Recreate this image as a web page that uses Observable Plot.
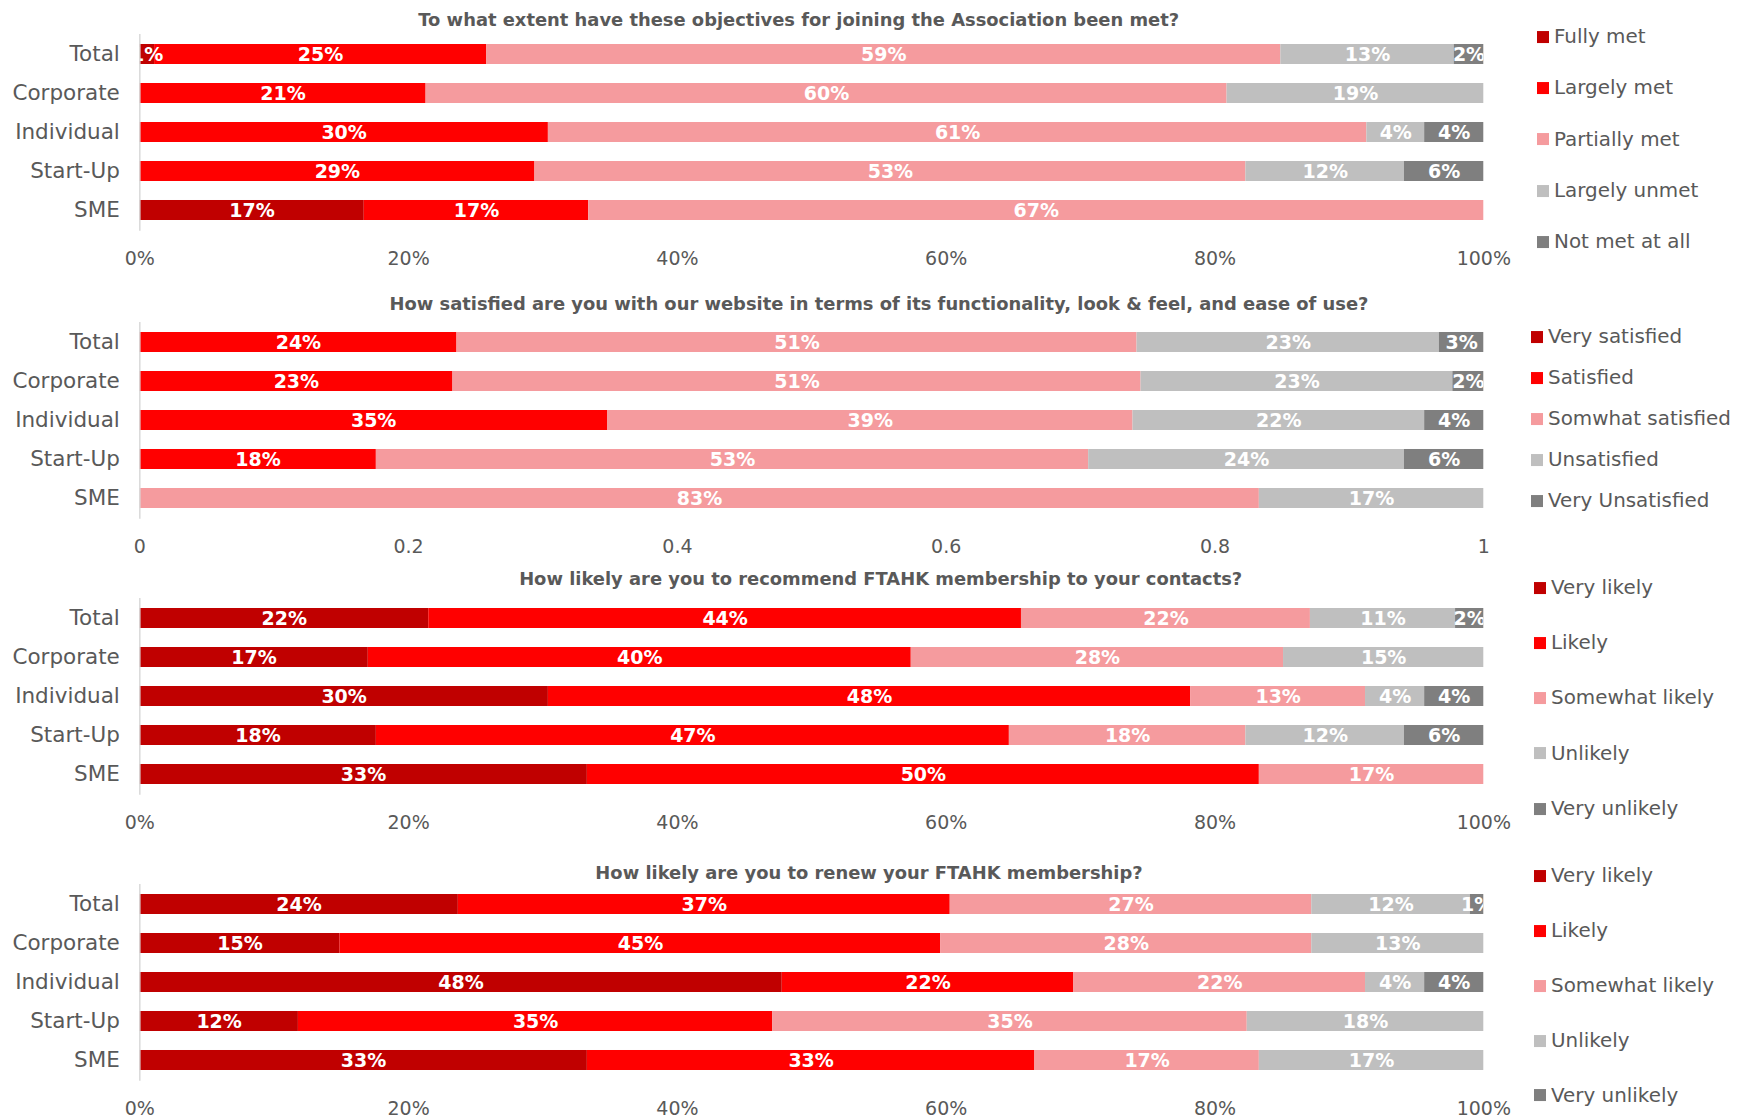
<!DOCTYPE html>
<html>
<head>
<meta charset="utf-8">
<script src="https://cdn.jsdelivr.net/npm/d3@7"></script>
<script src="https://cdn.jsdelivr.net/npm/@observablehq/plot@0.6"></script>
<style>
  body { margin: 0; background: #fff; }
  #page { position: relative; width: 1737px; height: 1119px; overflow: hidden; font-family: 'DejaVu Sans', sans-serif; color: #595959; }
  .title { position: absolute; transform: translate(-50%, -50%); font-weight: bold; font-size: 17.9px; white-space: nowrap; line-height: 1; }
  .chart { position: absolute; left: 0; }
  .legend-item { position: absolute; display: flex; align-items: center; transform: translateY(-50%); font-size: 19.9px; white-space: nowrap; line-height: 1; }
  .swatch { width: 12px; height: 12px; margin-right: 5px; flex: none; }
</style>
</head>
<body>
<div id="page"></div>
<script>
// Member segments shown on every chart
const groups = ["Total", "Corporate", "Individual", "Start-Up", "SME"];

// Shared five-step palette (strongest positive → strongest negative)
const palette = ["#C00000", "#FF0000", "#F59B9E", "#BFBFBF", "#7F7F7F"];

// Axis tick values and their labels
const tickValues = [0, 20, 40, 60, 80, 100];
const percentTickLabels = ["0%", "20%", "40%", "60%", "80%", "100%"];
const decimalTickLabels = ["0", "0.2", "0.4", "0.6", "0.8", "1"];

// Q1: objectives met (percent of respondents, rows follow `groups`)
const objectivesTitle = "To what extent have these objectives for joining the Association been met?";
const objectivesLevels = ["Fully met", "Largely met", "Partially met", "Largely unmet", "Not met at all"];
const objectivesValues = [
  [1.1, 24.7, 59.1, 12.9, 2.2],
  [0, 21.3, 59.6, 19.1, 0],
  [0, 30.4, 60.9, 4.3, 4.4],
  [0, 29.4, 52.9, 11.8, 5.9],
  [16.7, 16.7, 66.6, 0, 0]
];

// Q2: website satisfaction
const websiteTitle = "How satisfied are you with our website in terms of its functionality, look & feel, and ease of use?";
const websiteLevels = ["Very satisfied", "Satisfied", "Somwhat satisfied", "Unsatisfied", "Very Unsatisfied"];
const websiteValues = [
  [0, 23.6, 50.6, 22.5, 3.3],
  [0, 23.3, 51.2, 23.2, 2.3],
  [0, 34.8, 39.1, 21.7, 4.4],
  [0, 17.6, 53.0, 23.5, 5.9],
  [0, 0, 83.3, 16.7, 0]
];

// Q3: likelihood to recommend membership
const recommendTitle = "How likely are you to recommend FTAHK membership to your contacts?";
const recommendLevels = ["Very likely", "Likely", "Somewhat likely", "Unlikely", "Very unlikely"];
const recommendValues = [
  [21.5, 44.1, 21.5, 10.8, 2.1],
  [17.0, 40.4, 27.7, 14.9, 0],
  [30.4, 47.8, 13.0, 4.4, 4.4],
  [17.6, 47.1, 17.6, 11.8, 5.9],
  [33.3, 50.0, 16.7, 0, 0]
];

// Q4: likelihood to renew membership
const renewTitle = "How likely are you to renew your FTAHK membership?";
const renewLevels = ["Very likely", "Likely", "Somewhat likely", "Unlikely", "Very unlikely"];
const renewValues = [
  [23.7, 36.6, 26.9, 11.8, 1.0],
  [14.9, 44.7, 27.6, 12.8, 0],
  [47.8, 21.7, 21.7, 4.4, 4.4],
  [11.8, 35.3, 35.3, 17.6, 0],
  [33.3, 33.3, 16.7, 16.7, 0]
];

const FONT = "'DejaVu Sans', sans-serif";
const page = document.getElementById("page");

// Geometry shared by the four bar panels
const svgWidth = 1500;
const xLeft = 139.3, xRight = 1483.3;
const step = 39.5, bandwidth = 20;
const padInner = 1 - bandwidth / step;
const padOuter = 0.237;
const frameHeight = step * (groups.length - padInner + 2 * padOuter);
const marginTop = 10, marginBottom = 60;

const panels = [
  { title: objectivesTitle, levels: objectivesLevels, values: objectivesValues, ticks: percentTickLabels,
    rowY: 53.3, titleX: 798.7, titleY: 20, legendX: 1537, legendY: 37.3, legendStep: 51.1 },
  { title: websiteTitle, levels: websiteLevels, values: websiteValues, ticks: decimalTickLabels,
    rowY: 341.1, titleX: 879, titleY: 304, legendX: 1531, legendY: 336.8, legendStep: 41 },
  { title: recommendTitle, levels: recommendLevels, values: recommendValues, ticks: percentTickLabels,
    rowY: 617.0, titleX: 880.7, titleY: 579.4, legendX: 1534, legendY: 588.2, legendStep: 55.1 },
  { title: renewTitle, levels: renewLevels, values: renewValues, ticks: percentTickLabels,
    rowY: 903.4, titleX: 869, titleY: 872.5, legendX: 1534, legendY: 876.3, legendStep: 54.8 }
];

for (const p of panels) {
  // Long-format rows: one per (group, level) with a non-zero share
  const rows = [];
  groups.forEach((g, i) => {
    p.levels.forEach((lvl, j) => {
      const v = p.values[i][j];
      if (v > 0) rows.push({ group: g, level: lvl, value: v });
    });
  });

  const chart = Plot.plot({
    width: svgWidth,
    height: frameHeight + marginTop + marginBottom,
    marginLeft: xLeft,
    marginRight: svgWidth - xRight,
    marginTop,
    marginBottom,
    style: { fontFamily: FONT, color: "#595959", background: "transparent", overflow: "visible" },
    x: { domain: [0, 100], label: null },
    y: { domain: groups, paddingInner: padInner, paddingOuter: padOuter, label: null },
    color: { domain: p.levels, range: palette },
    marks: [
      Plot.barX(rows, Plot.stackX({ x: "value", y: "group", fill: "level", order: null })),
      Plot.text(rows, Plot.stackX({
        x: "value", y: "group", z: "level", order: null,
        text: d => Math.round(d.value) + "%",
        fill: "white", fontWeight: "bold", fontSize: 19, clip: true
      })),
      Plot.ruleX([0], { stroke: "#D9D9D9", strokeWidth: 1.5 }),
      Plot.axisX({
        ticks: tickValues,
        tickFormat: d => p.ticks[tickValues.indexOf(d)],
        tickSize: 0, tickPadding: 20, fontSize: 19, label: null
      }),
      Plot.axisY({ tickSize: 0, tickPadding: 20, fontSize: 21.5, label: null })
    ]
  });
  chart.classList.add("chart");
  chart.style.top = (p.rowY - padOuter * step - bandwidth / 2 - marginTop) + "px";
  page.appendChild(chart);

  const title = document.createElement("div");
  title.className = "title";
  title.textContent = p.title;
  title.style.left = p.titleX + "px";
  title.style.top = p.titleY + "px";
  page.appendChild(title);

  p.levels.forEach((lvl, j) => {
    const item = document.createElement("div");
    item.className = "legend-item";
    item.style.left = p.legendX + "px";
    item.style.top = (p.legendY + j * p.legendStep) + "px";
    const sw = document.createElement("span");
    sw.className = "swatch";
    sw.style.background = palette[j];
    const label = document.createElement("span");
    label.textContent = lvl;
    item.appendChild(sw);
    item.appendChild(label);
    page.appendChild(item);
  });
}
</script>
</body>
</html>
